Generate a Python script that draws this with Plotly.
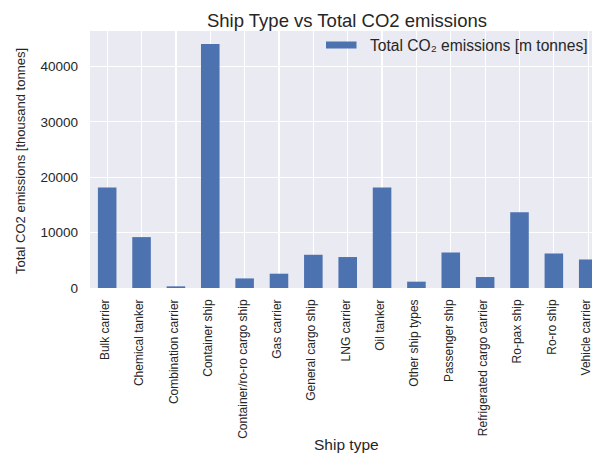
import plotly.graph_objects as go

ship_types = [
    "Bulk carrier", "Chemical tanker", "Combination carrier", "Container ship",
    "Container/ro-ro cargo ship", "Gas carrier", "General cargo ship", "LNG carrier",
    "Oil tanker", "Other ship types", "Passenger ship", "Refrigerated cargo carrier",
    "Ro-pax ship", "Ro-ro ship", "Vehicle carrier",
]
co2_emissions = [
    18130, 9190, 300, 44070,
    1730, 2580, 6000, 5590,
    18130, 1140, 6410, 1980,
    13690, 6230, 5150,
]
y_ticks = [0, 10000, 20000, 30000, 40000]
series_name = "Total CO₂ emissions [m tonnes]"

FONT = "Liberation Sans, Arial, sans-serif"
TXT = "#262626"
BAR = "#4C72B0"

# plot-area geometry (pixels)
W, H = 592, 454
L, T, B = 90, 31, 166
PW, PH = W - L, H - T - B


def px_x(px):
    return (px - L) / PW


def px_y(py):
    return (H - B - py) / PH


fig = go.Figure()
fig.add_trace(go.Bar(
    x=list(range(len(ship_types))),
    y=co2_emissions,
    width=0.54,
    marker=dict(color=BAR, line=dict(width=0)),
    name=series_name,
    showlegend=False,
))

# legend (patch + label)
fig.add_shape(type="rect", xref="paper", yref="paper",
              x0=px_x(326), x1=px_x(356.5), y0=px_y(48.5), y1=px_y(41.5),
              fillcolor=BAR, line=dict(width=0), layer="above")
fig.add_annotation(text=series_name, xref="paper", yref="paper",
                   x=px_x(367.5), y=px_y(45), xanchor="left", yanchor="middle",
                   showarrow=False, font=dict(size=15.6, color=TXT, family=FONT))

# axis titles
fig.add_annotation(text="Total CO2 emissions [thousand tonnes]", xref="paper", yref="paper",
                   x=px_x(20), y=px_y(161), xanchor="center", yanchor="middle",
                   textangle=-90, showarrow=False, font=dict(size=13, color=TXT, family=FONT))
fig.add_annotation(text="Ship type", xref="paper", yref="paper",
                   x=px_x(346.7), y=px_y(444), xanchor="center", yanchor="middle",
                   showarrow=False, font=dict(size=15.5, color=TXT, family=FONT))

fig.update_layout(
    width=W, height=H,
    margin=dict(l=L, r=0, t=T, b=B, autoexpand=False),
    paper_bgcolor="white",
    plot_bgcolor="#EAEAF2",
    font=dict(family=FONT, color=TXT, size=12),
    title=dict(text="Ship Type vs Total CO2 emissions", xref="container", x=347 / W, xanchor="center",
               yref="container", y=1 - 20.5 / H, yanchor="middle", font=dict(size=18.5, color=TXT)),
    showlegend=False,
    xaxis=dict(
        range=[-0.5, 14.11],
        automargin=False,
        tickmode="array",
        tickvals=list(range(len(ship_types))),
        ticktext=ship_types,
        tickangle=-90,
        ticklabeloverflow="allow",
        ticklabelshift=-2,
        showgrid=True, gridcolor="white", gridwidth=1.2,
        zeroline=False, showline=False,
        ticks="",
        ticklabelstandoff=8,
        tickfont=dict(size=12, color=TXT),
    ),
    yaxis=dict(
        range=[0, 46400],
        automargin=False,
        tickmode="array",
        tickvals=y_ticks,
        ticktext=[str(v) for v in y_ticks],
        showgrid=True, gridcolor="white", gridwidth=1.2,
        zeroline=False, showline=False,
        ticks="",
        ticklabelstandoff=11,
        tickfont=dict(size=13.5, color=TXT),
    ),
)

fig.write_html(
    "out.html",
    config={"displayModeBar": False, "staticPlot": True},
    post_script="document.body.style.margin='0';document.body.style.overflow='hidden';",
)
